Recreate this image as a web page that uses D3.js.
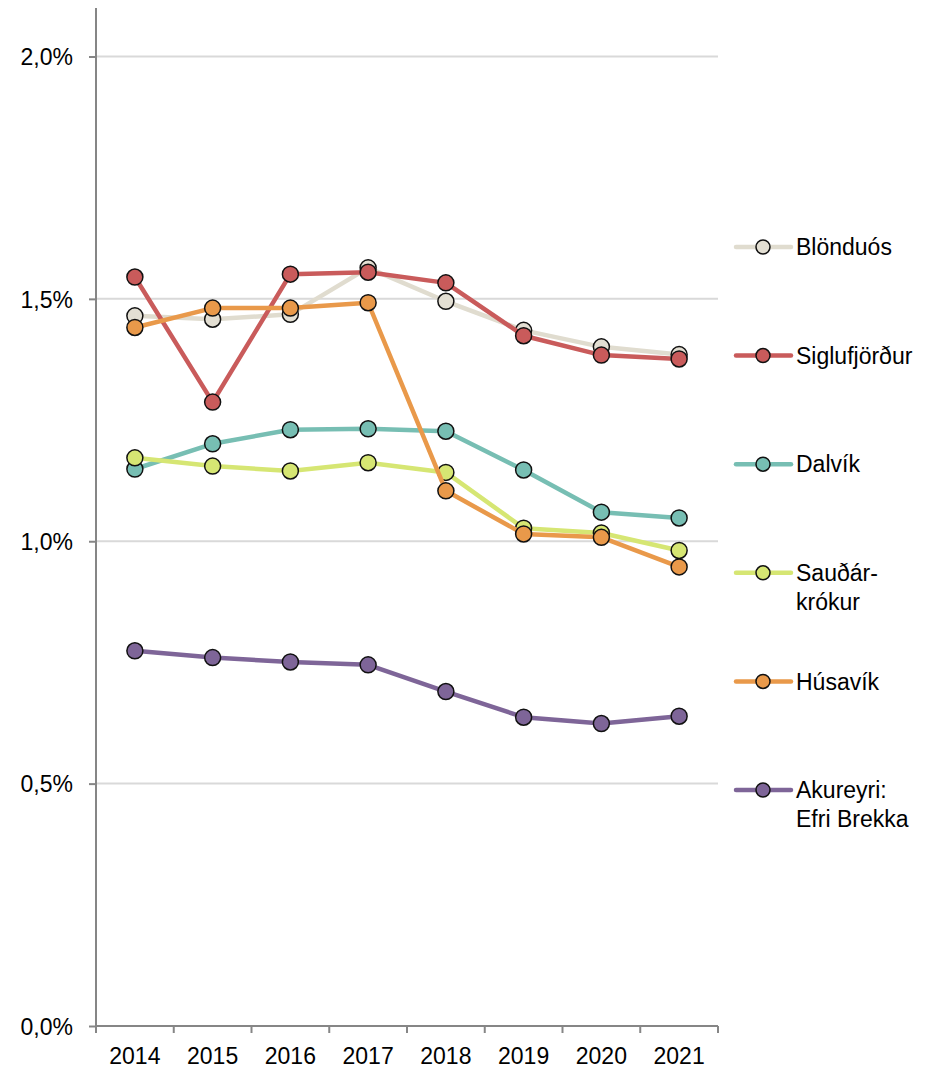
<!DOCTYPE html>
<html>
<head>
<meta charset="utf-8">
<script src="https://cdn.jsdelivr.net/npm/d3@7"></script>
<style>
  html, body { margin: 0; padding: 0; background: #fff; }
  svg text { font-family: "Liberation Sans", Arial, sans-serif; fill: #000; }
</style>
</head>
<body>
<svg id="chart" width="941" height="1071"></svg>
<script>
// Years along the x axis
const years = ["2014", "2015", "2016", "2017", "2018", "2019", "2020", "2021"];

// Share (%) per town, one array per series
const blonduos     = [1.465, 1.458, 1.468, 1.564, 1.495, 1.435, 1.401, 1.385];
const siglufjordur = [1.545, 1.287, 1.551, 1.555, 1.533, 1.424, 1.384, 1.376];
const dalvik       = [1.149, 1.201, 1.230, 1.232, 1.227, 1.147, 1.060, 1.048];
const saudarkrokur = [1.172, 1.155, 1.145, 1.162, 1.142, 1.027, 1.017, 0.981];
const husavik      = [1.441, 1.481, 1.481, 1.492, 1.104, 1.015, 1.008, 0.947];
const akureyri     = [0.774, 0.760, 0.751, 0.745, 0.690, 0.637, 0.624, 0.639];

// Legend labels (line-broken as displayed)
const seriesNames = [
  ["Blönduós"],
  ["Siglufjörður"],
  ["Dalvík"],
  ["Sauðár-", "krókur"],
  ["Húsavík"],
  ["Akureyri:", "Efri Brekka"]
];

// Y tick values and their labels
const yTicks = [0, 0.5, 1.0, 1.5, 2.0];
const yTickLabels = ["0,0%", "0,5%", "1,0%", "1,5%", "2,0%"];

const lineColors   = ["#E0DCCF", "#C95B5B", "#77BEB3", "#D6E673", "#E9994A", "#7E6598"];
const markerColors = ["#E3DFD3", "#C95B5B", "#77BEB3", "#D6E673", "#E9994A", "#7E6598"];

const seriesValues = [blonduos, siglufjordur, dalvik, saudarkrokur, husavik, akureyri];
const series = seriesValues.map((vals, i) => ({
  name: seriesNames[i],
  line: lineColors[i],
  fill: markerColors[i],
  values: vals.map((v, j) => ({ year: years[j], value: v }))
}));

const svg = d3.select("#chart");

const plotLeft = 96, plotRight = 718, plotTop = 8, plotBottom = 1026;

const x = d3.scaleBand().domain(years).range([plotLeft, plotRight]).padding(0);
const y = d3.scaleLinear().domain([0, 2.1]).range([plotBottom, plotTop]);

// Horizontal gridlines
svg.append("g")
  .selectAll("line")
  .data(yTicks.filter(d => d > 0))
  .join("line")
  .attr("x1", plotLeft).attr("x2", plotRight)
  .attr("y1", d => y(d)).attr("y2", d => y(d))
  .attr("stroke", "#D9D9D9")
  .attr("stroke-width", 2);

// Y axis
const yAxis = d3.axisLeft(y)
  .tickValues(yTicks)
  .tickSize(7)
  .tickPadding(16)
  .tickFormat((d, i) => yTickLabels[i]);

const gy = svg.append("g").attr("transform", `translate(${plotLeft},0)`).call(yAxis);
gy.select(".domain").attr("stroke", "#868686").attr("stroke-width", 2)
  .attr("d", `M0,${plotBottom}V${plotTop}`);
gy.selectAll(".tick line").attr("stroke", "#868686").attr("stroke-width", 2);
gy.selectAll(".tick text")
  .style("font-family", "'Liberation Sans', Arial, sans-serif")
  .style("font-size", "23px")
  .attr("fill", "#000")
  .attr("dy", "0.36em");

// X axis: ticks on band boundaries, labels at band centres
const gx = svg.append("g").attr("transform", `translate(0,${plotBottom})`);
gx.append("line")
  .attr("x1", plotLeft).attr("x2", plotRight)
  .attr("stroke", "#868686").attr("stroke-width", 2);
const boundaries = years.map(d => x(d)).concat([plotRight]);
gx.selectAll("line.tick")
  .data(boundaries)
  .join("line")
  .attr("class", "tick")
  .attr("x1", d => d).attr("x2", d => d)
  .attr("y1", 0).attr("y2", 7)
  .attr("stroke", "#868686").attr("stroke-width", 2);
gx.selectAll("text")
  .data(years)
  .join("text")
  .attr("x", d => x(d) + x.bandwidth() / 2)
  .attr("y", 38)
  .attr("text-anchor", "middle")
  .style("font-size", "23px")
  .text(d => d);

// Series lines and markers
const line = d3.line()
  .x(d => x(d.year) + x.bandwidth() / 2)
  .y(d => y(d.value));

const plot = svg.append("g");
series.forEach(s => {
  const g = plot.append("g");
  g.append("path")
    .datum(s.values)
    .attr("fill", "none")
    .attr("stroke", s.line)
    .attr("stroke-width", 4.5)
    .attr("stroke-linejoin", "round")
    .attr("d", line);
  g.selectAll("circle")
    .data(s.values)
    .join("circle")
    .attr("cx", d => x(d.year) + x.bandwidth() / 2)
    .attr("cy", d => y(d.value))
    .attr("r", 8)
    .attr("fill", s.fill)
    .attr("stroke", "#111")
    .attr("stroke-width", 1.5);
});

// Legend
const legendTop = 247, legendStep = 108.6;
const legend = svg.append("g");
series.forEach((s, i) => {
  const cy = legendTop + i * legendStep;
  const g = legend.append("g");
  g.append("line")
    .attr("x1", 736).attr("x2", 791)
    .attr("y1", cy).attr("y2", cy)
    .attr("stroke", s.line)
    .attr("stroke-width", 4.5)
    .attr("stroke-linecap", "round");
  g.append("circle")
    .attr("cx", 763).attr("cy", cy).attr("r", 7)
    .attr("fill", s.fill)
    .attr("stroke", "#111")
    .attr("stroke-width", 1.5);
  const t = g.append("text")
    .attr("x", 796)
    .attr("y", cy)
    .style("font-size", "23px");
  s.name.forEach((ln, k) => {
    t.append("tspan").attr("x", 796).attr("dy", k === 0 ? "0.36em" : "29px").text(ln);
  });
});
</script>
</body>
</html>
